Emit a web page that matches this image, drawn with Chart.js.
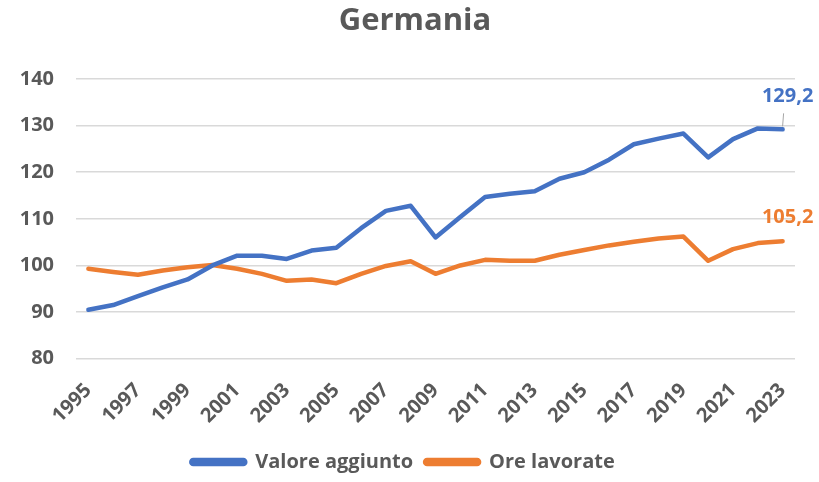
<!DOCTYPE html>
<html>
<head>
<meta charset="utf-8">
<script src="https://cdn.jsdelivr.net/npm/chart.js@4/dist/chart.umd.min.js"></script>
<style>
  body { margin: 0; background: #fff; }
  #wrap { width: 819px; height: 482px; }
</style>
</head>
<body>
<div id="wrap"><canvas id="chart"></canvas></div>
<script>
// Data (index, 2000 = ~100)
var years = ['1995', '1996', '1997', '1998', '1999', '2000', '2001', '2002', '2003', '2004',
  '2005', '2006', '2007', '2008', '2009', '2010', '2011', '2012', '2013', '2014',
  '2015', '2016', '2017', '2018', '2019', '2020', '2021', '2022', '2023'];
var valoreAggiunto = [90.5, 91.5, 93.4, 95.3, 97.0, 100.0, 102.1, 102.1, 101.4, 103.2,
  103.8, 108.0, 111.7, 112.8, 106.0, 110.4, 114.7, 115.4, 115.9, 118.6,
  120.0, 122.7, 126.0, 127.2, 128.3, 123.2, 127.1, 129.4, 129.2];
var oreLavorate = [99.3, 98.6, 98.0, 98.9, 99.6, 100.1, 99.3, 98.2, 96.7, 97.0,
  96.2, 98.2, 99.9, 100.9, 98.2, 100.0, 101.2, 101.0, 101.0, 102.3,
  103.3, 104.3, 105.1, 105.8, 106.2, 101.0, 103.5, 104.8, 105.2];
var seriesNames = ['Valore aggiunto', 'Ore lavorate'];
var seriesColors = ['#4472C4', '#ED7D31'];
var chartTitle = 'Germania';

var textColor = '#595959';
var fontFamily = '"Open Sans", Lato, sans-serif';

// Title drawn by hand so it sits centred on the whole picture (Excel style).
var titleDraw = {
  id: 'titleDraw',
  afterDraw: function(chart) {
    var ctx = chart.ctx;
    ctx.save();
    ctx.font = 'bold 31px ' + fontFamily;
    ctx.fillStyle = textColor;
    ctx.textAlign = 'center';
    ctx.textBaseline = 'middle';
    ctx.fillText(chartTitle, 415, 21);
    ctx.restore();
  }
};

// Draws the value of the last point of each line, like the Excel data labels.
var lastLabels = {
  id: 'lastLabels',
  afterDatasetsDraw: function(chart) {
    var ctx = chart.ctx;
    ctx.save();
    ctx.font = 'bold 20px ' + fontFamily;
    ctx.textAlign = 'center';
    ctx.textBaseline = 'middle';
    chart.data.datasets.forEach(function(ds, i) {
      var meta = chart.getDatasetMeta(i);
      var pt = meta.data[meta.data.length - 1];
      var v = ds.data[ds.data.length - 1];
      var txt = v.toFixed(1).replace('.', ',');
      var dy = i === 0 ? -33 : -24;
      if (i === 0) {
        // leader line
        ctx.strokeStyle = '#A6A6A6';
        ctx.lineWidth = 1;
        ctx.beginPath();
        ctx.moveTo(pt.x, pt.y - 3);
        ctx.lineTo(pt.x + 1, pt.y - 16);
        ctx.stroke();
      }
      ctx.fillStyle = seriesColors[i];
      ctx.fillText(txt, pt.x + 5, pt.y + dy);
    });
    ctx.restore();
  }
};

new Chart(document.getElementById('chart'), {
  type: 'line',
  data: {
    labels: years,
    datasets: [
      { label: seriesNames[0], data: valoreAggiunto, borderColor: seriesColors[0], backgroundColor: seriesColors[0] },
      { label: seriesNames[1], data: oreLavorate, borderColor: seriesColors[1], backgroundColor: seriesColors[1] }
    ]
  },
  options: {
    responsive: true,
    maintainAspectRatio: false,
    animation: false,
    elements: {
      line: { borderWidth: 4.5, tension: 0, borderCapStyle: 'round', borderJoinStyle: 'round' },
      point: { radius: 0, hoverRadius: 0 }
    },
    layout: { padding: { left: 11, right: 24, top: 79, bottom: 0 } },
    plugins: {
      title: { display: false },
      legend: {
        position: 'bottom',
        labels: {
          color: textColor,
          font: { family: fontFamily, size: 20, weight: 'bold' },
          boxWidth: 54,
          boxHeight: 4,
          padding: 12,
          useBorderRadius: true,
          borderRadius: 2
        }
      },
      tooltip: { enabled: false }
    },
    scales: {
      x: {
        offset: true,
        grid: { display: false },
        border: { display: false },
        ticks: {
          color: textColor,
          font: { family: fontFamily, size: 20, weight: 'bold' },
          autoSkip: false,
          minRotation: 45,
          maxRotation: 45,
          padding: 12,
          callback: function(val, idx) { return idx % 2 === 0 ? this.getLabelForValue(val) : ''; }
        }
      },
      y: {
        min: 80,
        max: 140,
        afterFit: function(scale) { scale.width = 65; },
        ticks: {
          stepSize: 10,
          color: textColor,
          font: { family: fontFamily, size: 20, weight: 'bold' },
          padding: 22
        },
        grid: { color: '#D9D9D9', lineWidth: 1.5, drawTicks: false },
        border: { display: false }
      }
    }
  },
  plugins: [lastLabels, titleDraw]
});
</script>
</body>
</html>
